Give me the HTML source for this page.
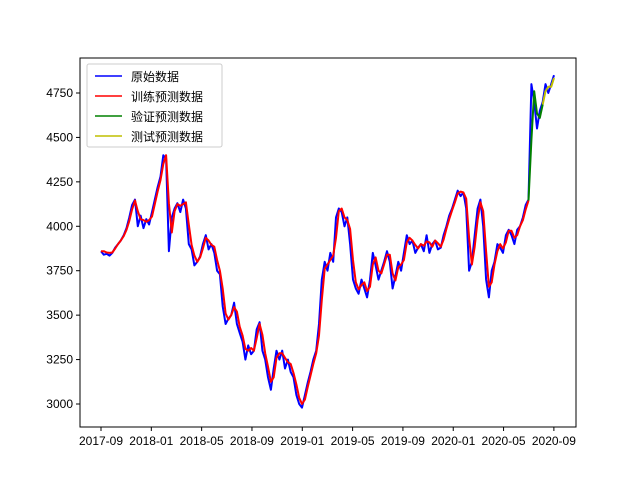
<!DOCTYPE html>
<html><head><meta charset="utf-8"><style>
body{margin:0;background:#fff}
svg text{font-family:"Liberation Sans","Noto Sans CJK SC",sans-serif;font-size:12px;fill:#000}
</style></head><body>
<svg id="chart" width="640" height="480" xmlns="http://www.w3.org/2000/svg">
<rect width="640" height="480" fill="#fff"/>
<g id="plot"></g>
<rect x="80" y="58" width="496" height="369" fill="none" stroke="#000" stroke-width="1"/>
<g id="axes"></g>
<g>
<rect x="87" y="64" width="135" height="83" fill="#fff" fill-opacity="0.8" stroke="#ccc" rx="2"/>
<line x1="95" y1="76" x2="122" y2="76" stroke="#0000ff" stroke-width="1.5"/><text x="131" y="81">原始数据</text>
<line x1="95" y1="96" x2="122" y2="96" stroke="#ff0000" stroke-width="1.5"/><text x="131" y="101">训练预测数据</text>
<line x1="95" y1="116" x2="122" y2="116" stroke="#008000" stroke-width="1.5"/><text x="131" y="121">验证预测数据</text>
<line x1="95" y1="136" x2="122" y2="136" stroke="#bfbf00" stroke-width="1.5"/><text x="131" y="141">测试预测数据</text>
</g>
</svg>
<script>
const values=[3860,3840,3845,3835,3850,
3880,3900,3920,3950,
3990,4050,4120,4150,4000,
4060,3990,4040,4010,4080,
4150,4220,4280,4400,
4380,3860,4050,4100,
4130,4080,4150,4100,3900,
3870,3780,3800,3830,
3900,3950,3870,3900,3850,
3750,3730,3550,3450,
3480,3500,3570,3450,3400,
3350,3250,3330,3280,
3300,3420,3460,3300,3250,
3150,3080,3200,3300,
3250,3300,3200,3250,3180,
3150,3050,3000,2980,
3050,3120,3180,3250,3300,
3450,3700,3800,3750,
3850,3800,4050,4100,
4080,4000,4050,3900,3700,
3650,3620,3700,3650,
3600,3700,3850,3780,3700,
3750,3800,3860,3800,
3650,3720,3800,3750,
3850,3950,3900,3920,3850,
3880,3900,3860,3950,
3850,3900,3920,3870,3880,
3950,4000,4060,4100,
4150,4200,4170,4190,4100,
3750,3800,3950,4100,
4150,4000,3700,3600,
3750,3800,3900,3880,3850,
3950,3980,3950,3900,
3980,4000,4050,4120,4150,
4800,4700,4550,4650,
4700,4800,4750,4800,4850];
const yTicks=[3000,3250,3500,3750,4000,4250,4500,4750];
const xTickLabels=["2017-09","2018-01","2018-05","2018-09","2019-01","2019-05","2019-09","2020-01","2020-05","2020-09"];
const trainEnd=values.length-10, validEnd=values.length-5;
const NS="http://www.w3.org/2000/svg";
function xIdx(i){return 101+(554-101)*i/(values.length-1);}
function xTick(k){return 101+k*4*12.58;}
function yVal(v){return 404-(v-3000)/250*44.43;}
const plot=document.getElementById('plot'),axes=document.getElementById('axes');
function line(pts,color,name){const p=document.createElementNS(NS,'polyline');
p.setAttribute('points',pts.map(q=>q[0].toFixed(1)+','+q[1].toFixed(1)).join(' '));
p.setAttribute('fill','none');p.setAttribute('stroke',color);p.setAttribute('stroke-width','2');p.setAttribute('stroke-linejoin','round');


plot.appendChild(p);}
line(values.map((v,i)=>[xIdx(i),yVal(v)]),'#0000ff','original-series');
const pred=values.map((v,i)=>i==0?v:values[i-1]*0.5+v*0.5+10);
line(pred.slice(0,trainEnd+1).map((v,i)=>[xIdx(i),yVal(v)]),'#ff0000','train-prediction-series');
line(pred.slice(trainEnd,validEnd+1).map((v,i)=>[xIdx(i+trainEnd),yVal(v)]),'#008000','valid-prediction-series');
line(pred.slice(validEnd).map((v,i)=>[xIdx(i+validEnd),yVal(v)]),'#bfbf00','test-prediction-series');
yTicks.forEach(t=>{const y=yVal(t);
const l=document.createElementNS(NS,'line');l.setAttribute('x1',76);l.setAttribute('x2',80);l.setAttribute('y1',y);l.setAttribute('y2',y);l.setAttribute('stroke','#000');


axes.appendChild(l);
const tx=document.createElementNS(NS,'text');tx.setAttribute('x',73);tx.setAttribute('y',y+4);tx.setAttribute('text-anchor','end');tx.textContent=t;


axes.appendChild(tx);});
xTickLabels.forEach((s,k)=>{const x=xTick(k);
const l=document.createElementNS(NS,'line');l.setAttribute('x1',x);l.setAttribute('x2',x);l.setAttribute('y1',427);l.setAttribute('y2',431);l.setAttribute('stroke','#000');


axes.appendChild(l);
const tx=document.createElementNS(NS,'text');tx.setAttribute('x',x);tx.setAttribute('y',445);tx.setAttribute('text-anchor','middle');tx.textContent=s;


axes.appendChild(tx);});
</script>
</body></html>
